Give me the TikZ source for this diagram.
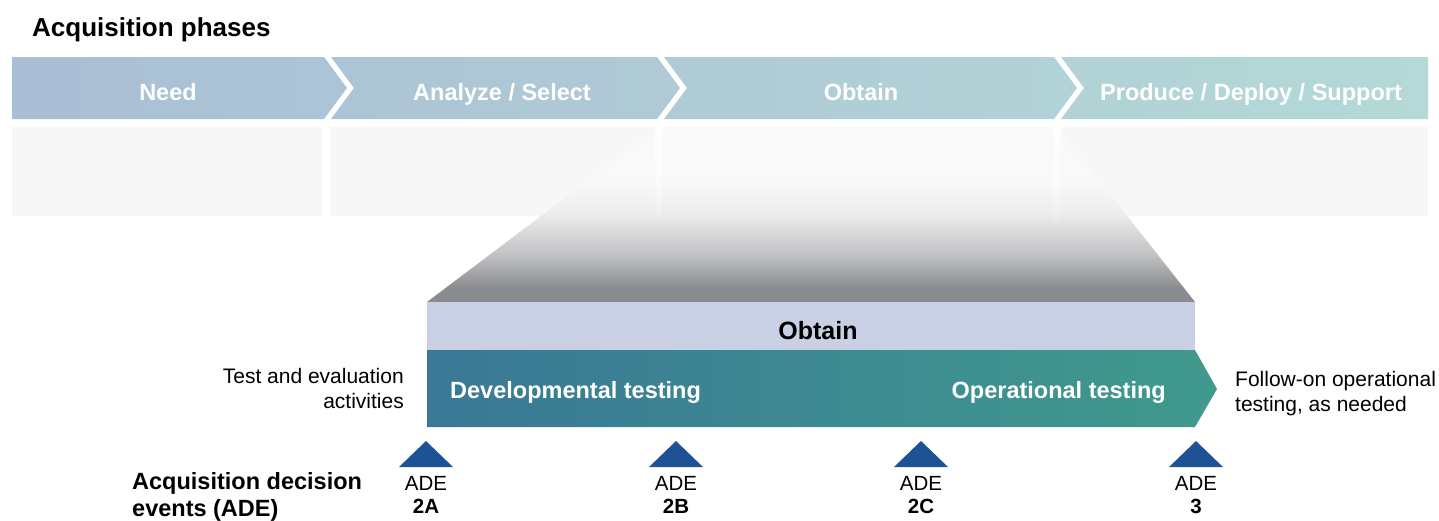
\documentclass[tikz,border=0pt]{standalone}
\usepackage{fontspec}
\setmainfont{Liberation Sans}
\usetikzlibrary{fadings}
\definecolor{barA}{RGB}{170,190,213}
\definecolor{barB}{RGB}{180,217,214}
\definecolor{panel}{RGB}{247,247,247}
\definecolor{gdark}{RGB}{137,139,142}
\definecolor{gmid}{RGB}{190,191,193}
\definecolor{glight}{RGB}{236,236,237}
\definecolor{gtop}{RGB}{249,249,249}
\definecolor{lav}{RGB}{201,208,227}
\definecolor{tealA}{RGB}{58,120,150}
\definecolor{tealB}{RGB}{64,154,140}
\definecolor{adeblue}{RGB}{29,82,148}
\pgfdeclareverticalshading{trapfade}{100bp}{color(0bp)=(gdark); color(25bp)=(gdark); color(29bp)=(gdark); color(38bp)=(gmid); color(50bp)=(glight); color(60bp)=(gtop); color(100bp)=(gtop)}
\begin{document}
\begin{tikzpicture}[x=1pt,y=-1pt,
  titletext/.style={font=\bfseries\fontsize{26}{30}\selectfont, inner sep=0},
  phasetext/.style={text=white, font=\bfseries\fontsize{23.5}{28}\selectfont, inner sep=0, anchor=base},
  obtaintext/.style={font=\bfseries\fontsize{25}{30}\selectfont, inner sep=0, anchor=base},
  testtext/.style={text=white, font=\bfseries\fontsize{23.5}{28}\selectfont, inner sep=0},
  sidetext/.style={font=\fontsize{21}{25}\selectfont, inner sep=0},
  adetext/.style={font=\fontsize{20.5}{24}\selectfont, inner sep=0, anchor=base},
  adenum/.style={font=\bfseries\fontsize{20.5}{24}\selectfont, inner sep=0, anchor=base},
  legendtext/.style={font=\bfseries\fontsize{23.5}{28}\selectfont, inner sep=0, anchor=base west},
  panelbox/.style={fill=panel},
  gapfade/.style={fill=white, path fading=south},
  adetri/.style={fill=adeblue}
]
\useasboundingbox (0,0) rectangle (1439,520);
\fill[white] (0,0) rectangle (1439,520);

% title
\node[titletext, anchor=base west] (title) at (32,36) {Acquisition phases};

% phase chevrons
\path[left color=barA, right color=barB!24!barA] (12,57) -- (324,57) -- (347,88) -- (324,119) -- (12,119) -- cycle;
\path[left color=barB!22!barA, right color=barB!47!barA] (331,57) -- (657,57) -- (680,88) -- (657,119) -- (331,119) -- (354,88) -- cycle;
\path[left color=barB!46!barA, right color=barB!75!barA] (664,57) -- (1054,57) -- (1077,88) -- (1054,119) -- (664,119) -- (687,88) -- cycle;
\path[left color=barB!74!barA, right color=barB] (1061,57) -- (1428,57) -- (1428,119) -- (1061,119) -- (1084,88) -- cycle;

\node[phasetext] (need) at (168,100) {Need};
\node[phasetext] (analyze) at (502,100) {Analyze / Select};
\node[phasetext] (obtainphase) at (861,100) {Obtain};
\node[phasetext] (produce) at (1251,100) {Produce / Deploy / Support};

% panels
\fill[panelbox] (12,127) rectangle (322,216);
\fill[panelbox] (330,127) rectangle (654,216);
\fill[panelbox] (663,127) rectangle (1052,216);
\fill[panelbox] (1061,127) rectangle (1428,216);

% zoom trapezoid
\path[shading=trapfade] (427,302) -- (659,127) -- (1057,127) -- (1195,302) -- cycle;
\fill[gapfade] (655,120) rectangle (662,230);
\fill[gapfade] (1053,120) rectangle (1060,230);

% obtain bar
\fill[lav] (427,302) rectangle (1195,350);
\node[obtaintext] (obtain) at (818,339) {Obtain};

% testing arrow
\path[left color=tealA, right color=tealB] (427,350) -- (1195,350) -- (1217,389) -- (1195,427) -- (427,427) -- cycle;
\node[testtext, anchor=base west] (dev) at (450,398) {Developmental testing};
\node[testtext, anchor=base east] (op) at (1166,398) {Operational testing};

% side texts
\node[sidetext, anchor=base east] (te1) at (404,383) {Test and evaluation};
\node[sidetext, anchor=base east] (te2) at (404,408) {activities};
\node[sidetext, anchor=base west] (fo1) at (1235,386) {Follow-on operational};
\node[sidetext, anchor=base west] (fo2) at (1235,411) {testing, as needed};

% ADE markers
\foreach \x/\n/\lab in {426/a/2A, 676/b/2B, 921/c/2C, 1196/d/3}{
  \fill[adetri] (\x-27,467) -- (\x,441) -- (\x+27,467) -- cycle;
  \node[adetext] (ade\n) at (\x,490) {ADE};
  \node[adenum] (num\n) at (\x,513) {\lab};
}

% legend
\node[legendtext] (leg1) at (132,489) {Acquisition decision};
\node[legendtext] (leg2) at (132,516) {events (ADE)};
\end{tikzpicture}
\end{document}
